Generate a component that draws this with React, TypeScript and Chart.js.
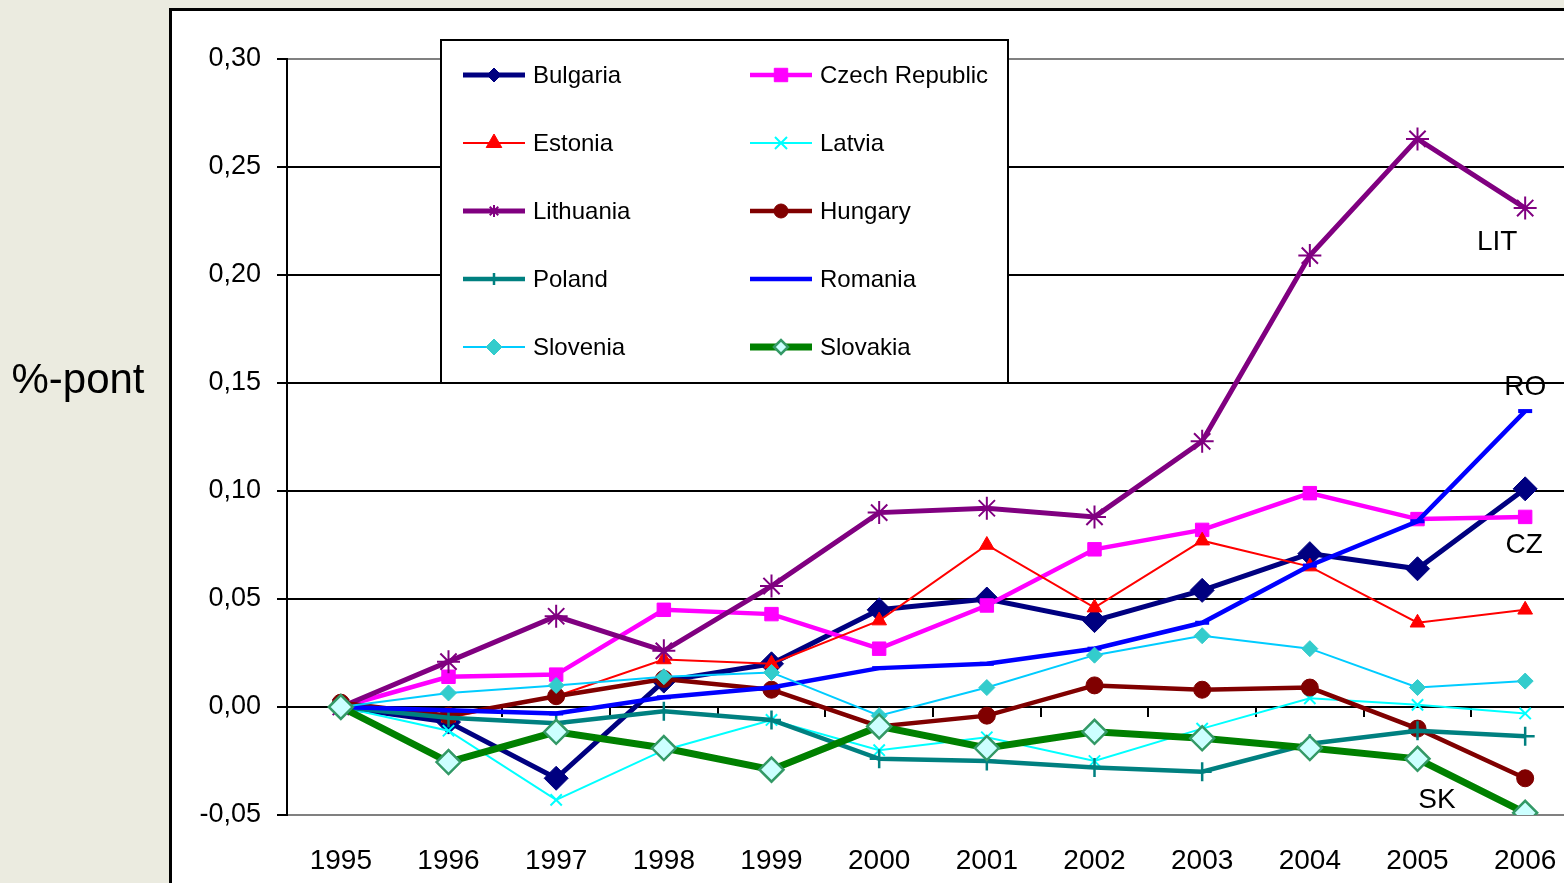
import React, { useEffect, useRef } from 'react';
import { Chart, registerables } from 'chart.js';
import { drawPoint } from 'chart.js/helpers';

Chart.register(...registerables);

const categories = ['1995', '1996', '1997', '1998', '1999', '2000', '2001', '2002', '2003', '2004', '2005', '2006'];

const bulgaria = [0, -0.007, -0.033, 0.012, 0.020, 0.045, 0.050, 0.040, 0.054, 0.071, 0.064, 0.101];
const czech = [0, 0.014, 0.015, 0.045, 0.043, 0.027, 0.047, 0.073, 0.082, 0.099, 0.087, 0.088];
const estonia = [0, -0.005, 0.005, 0.022, 0.020, 0.040, 0.075, 0.046, 0.077, 0.065, 0.039, 0.045];
const latvia = [0, -0.011, -0.043, -0.020, -0.006, -0.020, -0.014, -0.025, -0.010, 0.004, 0.001, -0.003];
const lithuania = [0, 0.021, 0.042, 0.026, 0.056, 0.090, 0.092, 0.088, 0.123, 0.209, 0.263, 0.231];
const hungary = [0.002, -0.004, 0.005, 0.013, 0.008, -0.009, -0.004, 0.010, 0.008, 0.009, -0.010, -0.033];
const poland = [0, -0.005, -0.0075, -0.002, -0.006, -0.024, -0.025, -0.028, -0.030, -0.017, -0.011, -0.0135];
const romania = [0, -0.0015, -0.003, 0.0045, 0.009, 0.018, 0.020, 0.027, 0.039, 0.0655, 0.086, 0.137];
const slovenia = [0, 0.0065, 0.010, 0.014, 0.016, -0.004, 0.009, 0.024, 0.033, 0.027, 0.009, 0.012];
const slovakia = [0, -0.0255, -0.0115, -0.019, -0.029, -0.009, -0.019, -0.0115, -0.0145, -0.019, -0.024, -0.049];

const seriesNames = ['Bulgaria', 'Czech Republic', 'Estonia', 'Latvia', 'Lithuania', 'Hungary', 'Poland', 'Romania', 'Slovenia', 'Slovakia'];

const yTitle = '%-pont';
const yMin = -0.05;
const yMax = 0.3;
const yStep = 0.05;

// Series annotation labels: position given in category index / value units
const annotationTexts = ['LIT', 'RO', 'CZ', 'SK'];
const annotationCats = [10.74, 11.0, 10.99, 10.18];
const annotationVals = [0.215, 0.148, 0.075, -0.043];

const FONT = '"Liberation Sans", Arial, Helvetica, sans-serif';
const CANVAS_W = 1620;
const CANVAS_H = 883;

const bgPlugin = {
  id: 'bgPanel',
  beforeDraw(chart: any) {
    const ctx = chart.ctx;
    ctx.save();
    ctx.fillStyle = '#EBEBE0';
    ctx.fillRect(0, 0, chart.width, chart.height);
    ctx.fillStyle = '#FFFFFF';
    ctx.fillRect(169, 8, chart.width, chart.height);
    ctx.strokeStyle = '#000000';
    ctx.lineWidth = 3;
    ctx.beginPath();
    ctx.moveTo(170.5, 8);
    ctx.lineTo(170.5, chart.height);
    ctx.moveTo(169, 9.5);
    ctx.lineTo(chart.width, 9.5);
    ctx.stroke();
    ctx.fillStyle = '#000000';
    ctx.font = `42px ${FONT}`;
    ctx.textAlign = 'center';
    ctx.textBaseline = 'middle';
    ctx.fillText(yTitle, 78, 381);
    ctx.restore();
  },
};

const zeroTicksPlugin = {
  id: 'zeroTicks',
  beforeDatasetsDraw(chart: any) {
    const ctx = chart.ctx;
    const xs = chart.scales.x;
    const ys = chart.scales.y;
    const y0 = ys.getPixelForValue(0);
    ctx.save();
    ctx.strokeStyle = '#000000';
    ctx.lineWidth = 2;
    ctx.beginPath();
    for (let i = 1; i <= categories.length; i++) {
      const px = Math.round(xs.getPixelForValue(i - 0.5));
      ctx.moveTo(px, y0);
      ctx.lineTo(px, y0 + 10);
    }
    ctx.stroke();
    ctx.restore();
  },
};

const annotationPlugin = {
  id: 'seriesLabels',
  afterDatasetsDraw(chart: any) {
    const ctx = chart.ctx;
    const xs = chart.scales.x;
    const ys = chart.scales.y;
    ctx.save();
    ctx.fillStyle = '#000000';
    ctx.font = `28px ${FONT}`;
    ctx.textAlign = 'center';
    ctx.textBaseline = 'middle';
    annotationTexts.forEach((t, i) => {
      ctx.fillText(t, xs.getPixelForValue(annotationCats[i]), ys.getPixelForValue(annotationVals[i]));
    });
    ctx.restore();
  },
};

const legendPlugin = {
  id: 'boxLegend',
  afterDatasetsDraw(chart: any) {
    const ctx = chart.ctx;
    const bx = 440, by = 39, bw = 569, bh = 345;
    ctx.save();
    ctx.fillStyle = '#FFFFFF';
    ctx.fillRect(bx, by, bw, bh);
    ctx.strokeStyle = '#000000';
    ctx.lineWidth = 2;
    ctx.strokeRect(bx + 1, by + 1, bw - 2, bh - 2);
    chart.data.datasets.forEach((ds: any, i: number) => {
      const col = i % 2;
      const row = Math.floor(i / 2);
      const sx = bx + 23 + col * 287;
      const cy = by + 36 + row * 68;
      ctx.strokeStyle = ds.borderColor;
      ctx.lineWidth = ds.borderWidth;
      ctx.beginPath();
      ctx.moveTo(sx, cy);
      ctx.lineTo(sx + 62, cy);
      ctx.stroke();
      ctx.fillStyle = ds.pointBackgroundColor;
      ctx.strokeStyle = ds.pointBorderColor;
      ctx.lineWidth = ds.pointBorderWidth;
      drawPoint(ctx, { pointStyle: ds.pointStyle, rotation: 0, radius: ds.legendRadius, borderWidth: ds.pointBorderWidth }, sx + 31, cy);
      ctx.fillStyle = '#000000';
      ctx.font = `24px ${FONT}`;
      ctx.textAlign = 'left';
      ctx.textBaseline = 'middle';
      ctx.fillText(ds.label, sx + 70, cy + 1);
    });
    ctx.restore();
  },
};

export default function App() {
  const canvasRef = useRef<HTMLCanvasElement | null>(null);

  useEffect(() => {
    if (!canvasRef.current) return;
    const values = [bulgaria, czech, estonia, latvia, lithuania, hungary, poland, romania, slovenia, slovakia];
    const styles: any[] = [
      { borderColor: '#000080', borderWidth: 5, pointStyle: 'rectRot', pointRadius: 12, pointBackgroundColor: '#000080', pointBorderColor: '#000080', pointBorderWidth: 1, legendRadius: 7 },
      { borderColor: '#FF00FF', borderWidth: 4.5, pointStyle: 'rect', pointRadius: 9.5, pointBackgroundColor: '#FF00FF', pointBorderColor: '#FF00FF', pointBorderWidth: 1, legendRadius: 9.5 },
      { borderColor: '#FF0000', borderWidth: 2, pointStyle: 'triangle', pointRadius: 8.5, pointBackgroundColor: '#FF0000', pointBorderColor: '#FF0000', pointBorderWidth: 1, legendRadius: 9 },
      { borderColor: '#00FFFF', borderWidth: 2, pointStyle: 'crossRot', pointRadius: 8, pointBackgroundColor: '#00FFFF', pointBorderColor: '#00FFFF', pointBorderWidth: 2, legendRadius: 8.5 },
      { borderColor: '#800080', borderWidth: 5, pointStyle: 'star', pointRadius: 11.5, pointBackgroundColor: '#800080', pointBorderColor: '#800080', pointBorderWidth: 2, legendRadius: 6 },
      { borderColor: '#800000', borderWidth: 4.5, pointStyle: 'circle', pointRadius: 8.5, pointBackgroundColor: '#800000', pointBorderColor: '#800000', pointBorderWidth: 1, legendRadius: 7 },
      { borderColor: '#008080', borderWidth: 4.5, pointStyle: 'cross', pointRadius: 9.5, pointBackgroundColor: '#008080', pointBorderColor: '#008080', pointBorderWidth: 2.5, legendRadius: 6 },
      { borderColor: '#0000FF', borderWidth: 4.5, pointStyle: 'line', pointRadius: 7, pointBackgroundColor: '#0000FF', pointBorderColor: '#0000FF', pointBorderWidth: 4, legendRadius: 4 },
      { borderColor: '#00CCFF', borderWidth: 2, pointStyle: 'rectRot', pointRadius: 8, pointBackgroundColor: '#33CCCC', pointBorderColor: '#33CCCC', pointBorderWidth: 1, legendRadius: 8 },
      { borderColor: '#008000', borderWidth: 7, pointStyle: 'rectRot', pointRadius: 12, pointBackgroundColor: '#CCFFFF', pointBorderColor: '#339966', pointBorderWidth: 2.5, legendRadius: 7 },
    ];
    const datasets = seriesNames.map((name, i) => ({
      label: name,
      data: values[i],
      tension: 0,
      fill: false,
      order: seriesNames.length - 1 - i,
      ...styles[i],
    }));

    const chart = new Chart(canvasRef.current, {
      type: 'line',
      data: { labels: categories, datasets },
      options: {
        animation: false,
        responsive: false,
        maintainAspectRatio: false,
        layout: { padding: { left: 0, right: 41, top: 59, bottom: 0 } },
        plugins: {
          legend: { display: false },
          tooltip: { enabled: false },
          title: { display: false },
        },
        scales: {
          x: {
            type: 'category',
            offset: true,
            grid: { display: false, drawTicks: false },
            border: { display: false },
            ticks: {
              color: '#000000',
              font: { family: FONT, size: 28 },
              padding: 29,
              maxRotation: 0,
              autoSkip: false,
            },
            afterFit(scale: any) {
              scale.height = 68;
            },
          },
          y: {
            min: yMin,
            max: yMax,
            ticks: {
              stepSize: yStep,
              color: '#000000',
              font: { family: FONT, size: 27 },
              padding: 16,
              callback: (v: any) => (Math.round(Number(v) * 100) / 100).toFixed(2).replace('.', ','),
            },
            grid: {
              color: (ctx: any) => {
                const v = ctx.tick ? ctx.tick.value : 0;
                if (Math.abs(v - yMax) < 1e-6 || Math.abs(v - yMin) < 1e-6) return '#808080';
                return '#000000';
              },
              lineWidth: 2,
              tickLength: 10,
              tickColor: '#000000',
              tickWidth: 2,
            },
            border: { display: true, color: '#000000', width: 2 },
            afterFit(scale: any) {
              scale.width = 287;
            },
          },
        },
      },
      plugins: [bgPlugin, zeroTicksPlugin, annotationPlugin, legendPlugin],
    } as any);

    return () => {
      chart.destroy();
    };
  }, []);

  return (
    <div style={{ position: 'fixed', left: 0, top: 0, width: 1564, height: 883, overflow: 'hidden', background: '#EBEBE0' }}>
      <canvas ref={canvasRef} width={CANVAS_W} height={CANVAS_H} style={{ display: 'block', width: CANVAS_W, height: CANVAS_H }} />
    </div>
  );
}
